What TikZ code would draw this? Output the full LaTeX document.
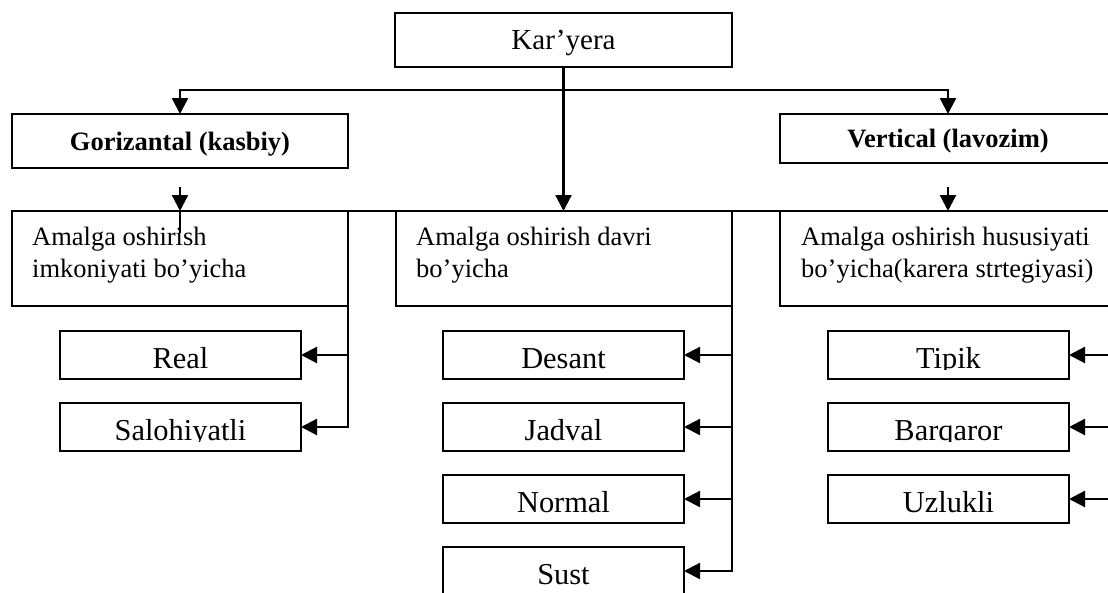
\documentclass[tikz,border=0pt]{standalone}
\usepackage{fontspec}
\setmainfont{Liberation Serif}
\usetikzlibrary{arrows.meta}
\newcommand\fKar{\fontsize{29}{34}\selectfont}
\newcommand\fHead{\fontsize{26.5}{32}\selectfont}
\newcommand\fLeaf{\fontsize{30.4}{36}\selectfont}
\begin{document}
\begin{tikzpicture}[x=1pt,y=-1pt,
  box/.style={draw, line width=2.3pt, rectangle, inner sep=0pt, outer sep=0pt, anchor=north west},
  ln/.style={line width=2.3pt},
  arr/.style={line width=2.3pt, -{Triangle[length=16pt,width=16pt]}},
  btext/.style={anchor=north west, align=left, inner sep=0pt, font=\fHead}]
\useasboundingbox (0,0) rectangle (1108,592);
\clip (0,0) rectangle (1108,592);
% top
\node[box, minimum width=337pt, minimum height=54pt, text depth=0pt, font=\fKar] (kar) at (395,13) {Kar’yera};
\node[box, minimum width=336pt, minimum height=54pt, text depth=0pt, font=\fHead\bfseries] (gor) at (12,114) {Gorizantal (kasbiy)};
\node[box, minimum width=336pt, minimum height=49pt, text depth=0pt, font=\fHead\bfseries] (ver) at (780,114) {Vertical (lavozim)};
% second row
\node[box, minimum width=336pt, minimum height=95pt] (b1) at (12,211) {};
\node[box, minimum width=336pt, minimum height=95pt] (b2) at (396,211) {};
\node[box, minimum width=336pt, minimum height=95pt] (b3) at (780,211) {};
\node[btext] (b1t) at (32,227) {Amalga oshirish\\imkoniyati bo’yicha};
\node[btext] (b2t) at (416,227) {Amalga oshirish davri\\bo’yicha};
\node[btext] (b3t) at (801,227) {Amalga oshirish hususiyati\\bo’yicha(karera strtegiyasi)};
% leaves
\newcommand\leaf[4]{%
  \node[box, minimum width=241pt, minimum height=48pt] (#1) at (#2,#3) {};
  \begin{scope}
    \clip (#2,#3) rectangle ++(241,38);
    \node[anchor=base, inner sep=0pt, font=\fLeaf] (#1t) at (#2+120.5,#3+37.5) {#4};
  \end{scope}}
\leaf{real}{60}{331}{Real}
\leaf{salo}{60}{403}{Salohiyatli}
\leaf{desant}{443}{331}{Desant}
\leaf{jadval}{443}{403}{Jadval}
\leaf{normal}{443}{475}{Normal}
\leaf{sust}{443}{547}{Sust}
\leaf{tipik}{828}{331}{Tipik}
\leaf{barq}{828}{403}{Barqaror}
\leaf{uzl}{828}{475}{Uzlukli}
% connectors
\coordinate (jy) at (0,90);
\coordinate (ay) at (0,187);
\draw[arr] (kar.south |- jy) -| (gor.north);
\draw[arr] (kar.south |- jy) -| (ver.north);
\draw[arr] (kar.south) -- (kar.south |- b2.north);
\draw[arr] (gor.south |- ay) -- (gor.south |- b1.north);
\draw[ln] (gor.south |- b1.north) -- ++(0,22);
\draw[arr] (ver.south |- ay) -- (ver.south |- b3.north);
\draw[ln] (b1.north east) -- (b2.north west);
\draw[ln] (b2.north east) -- (b3.north west);
\draw[arr] (b1.south east) |- (salo.east);
\draw[arr] (b1.south east |- real.east) -- (real.east);
\draw[arr] (b2.south east) |- (sust.east);
\draw[arr] (b2.south east |- desant.east) -- (desant.east);
\draw[arr] (b2.south east |- jadval.east) -- (jadval.east);
\draw[arr] (b2.south east |- normal.east) -- (normal.east);
\draw[arr] (b3.south east) |- (uzl.east);
\draw[arr] (b3.south east |- tipik.east) -- (tipik.east);
\draw[arr] (b3.south east |- barq.east) -- (barq.east);
\end{tikzpicture}
\end{document}
